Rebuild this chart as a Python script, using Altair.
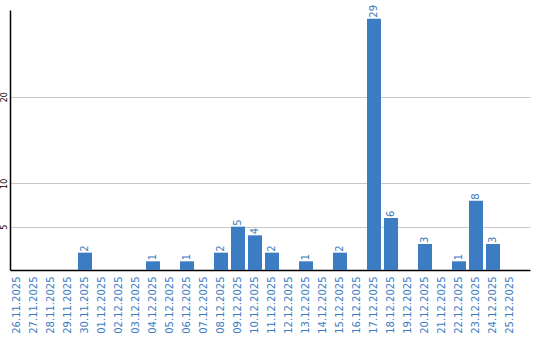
import altair as alt
import pandas as pd

dates = ["26.11.2025","27.11.2025","28.11.2025","29.11.2025","30.11.2025","01.12.2025",
         "02.12.2025","03.12.2025","04.12.2025","05.12.2025","06.12.2025","07.12.2025",
         "08.12.2025","09.12.2025","10.12.2025","11.12.2025","12.12.2025","13.12.2025",
         "14.12.2025","15.12.2025","16.12.2025","17.12.2025","18.12.2025","19.12.2025",
         "20.12.2025","21.12.2025","22.12.2025","23.12.2025","24.12.2025","25.12.2025"]
values = [0,0,0,0,2,0,0,0,1,0,1,0,2,5,4,2,0,1,0,2,0,29,6,0,3,0,1,8,3,0]
y_ticks = [5, 10, 20]

df = pd.DataFrame({"date": dates, "value": values})
df["label"] = [str(v) if v > 0 else "" for v in values]

blue = "#3b7cc2"

xscale = alt.Scale(paddingInner=0.176, paddingOuter=0.382, align=0)
x = alt.X("date:N", sort=dates, title=None, scale=xscale,
          axis=alt.Axis(labelAngle=270, labelAlign="right", labelBaseline="middle",
                        labelColor=blue, labelFont="DejaVu Sans", labelFontSize=10,
                        ticks=False, labelPadding=6, domainColor="#000000",
                        domainWidth=1.5, grid=False))
y = alt.Y("value:Q", title=None, scale=alt.Scale(domain=[0, 30], nice=False),
          axis=alt.Axis(values=y_ticks, labelAngle=270, labelAlign="center",
                        labelBaseline="bottom", labelFont="DejaVu Sans", labelFontSize=8,
                        labelColor="#000000", ticks=False, labelPadding=2,
                        domainColor="#000000", domainWidth=1.5,
                        gridColor="#c8c8c8", gridWidth=1))

bars = alt.Chart(df).mark_bar(color=blue).encode(x=x, y=y)
text = alt.Chart(df).mark_text(angle=270, align="left", baseline="middle", dx=1,
                               color=blue, font="DejaVu Sans", fontSize=10).encode(
    x=alt.X("date:N", sort=dates, scale=xscale), y="value:Q", text="label:N")

chart = (bars + text).properties(
    width=520, height=260,
    autosize="none",
    padding={"left": 10, "top": 10, "right": 10, "bottom": 70},
).configure_view(stroke=None)

chart.save("out.html", embed_options={"renderer": "svg", "actions": False})
